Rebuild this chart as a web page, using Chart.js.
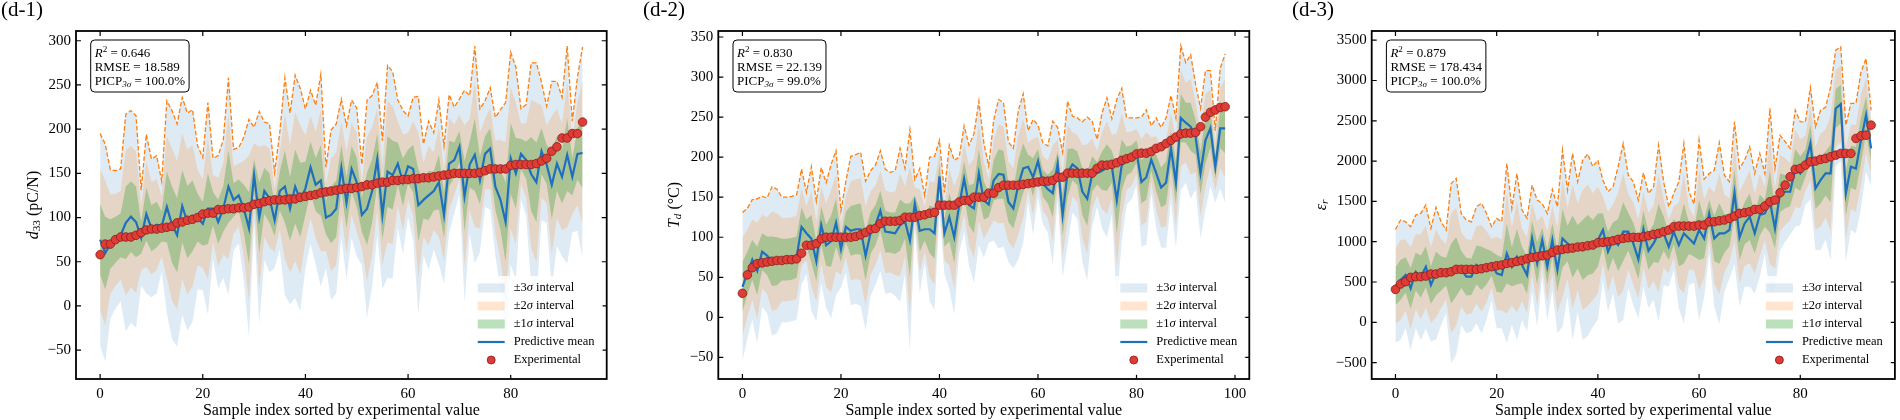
<!DOCTYPE html>
<html>
<head>
<meta charset="utf-8">
<script src="https://cdn.jsdelivr.net/npm/chart.js@4.4.0/dist/chart.umd.min.js"></script>
<style>
body { margin: 0; background: #fff; }
canvas { position: absolute; top: 0; }
</style>
</head>
<body>
<canvas id="c1" width="630" height="420" style="left:0px;width:630px;height:420px"></canvas>
<canvas id="c2" width="630" height="420" style="left:630px;width:630px;height:420px"></canvas>
<canvas id="c3" width="640" height="420" style="left:1260px;width:640px;height:420px"></canvas>
<script>
// (d-1) d33
const exp1 = [58,70,70,75,78,78,78,80,83,86,87,87,88,89,90,94,95,97,98,100,104,105,105,109,109,110,110,111,111,112,115,116,118,119,120,120,120,121,121,123,124,125,126,128,129,130,131,132,133,133,134,135,137,137,139,140,140,142,142,143,143,144,144,145,145,146,147,148,149,150,150,150,150,150,151,153,155,155,155,155,159,160,160,160,160,161,164,167,175,180,190,190,195,195,208];
const mean1 = [75,60,70,75,80,94,101,95,77,104,88,92,90,112,92,80,113,95,102,100,93,110,110,95,110,135,120,125,110,88,148,100,130,122,97,130,135,110,135,120,133,157,137,142,100,103,110,156,117,155,140,103,110,130,166,103,152,148,161,140,158,155,114,120,125,130,140,103,161,165,180,124,160,171,142,172,178,135,120,95,167,150,172,165,149,140,175,160,137,161,146,171,146,172,173];
const sig1 = [40,41,28,26,25,41,40,40,18,30,26,26,17,40,43,42,41,41,40,27,25,40,19,25,26,41,19,18,27,41,18,40,26,28,18,22,41,36,42,42,30,29,30,40,19,32,32,26,29,26,28,19,41,36,29,28,40,39,24,27,19,27,41,21,28,22,31,26,26,20,18,40,26,41,27,20,23,26,34,45,40,40,17,21,42,45,26,22,39,31,30,41,21,29,40];
const stats1 = ['0.646', '18.589', '100.0%'];

// (d-2) Td
const exp2 = [30,53,62,67,68,69,70,71,71,72,72,73,80,90,90,92,98,100,100,100,100,100,100,101,103,106,110,111,117,120,120,120,121,125,125,125,127,128,130,131,140,140,140,140,144,146,146,150,150,150,155,155,162,165,165,165,165,166,167,168,169,170,170,171,175,175,180,180,180,180,180,180,186,190,190,191,193,196,198,200,204,205,205,207,211,213,217,221,225,229,230,230,231,238,250,256,259,262,263];
const mean2 = [38,55,72,58,82,77,70,70,72,72,73,75,113,105,98,70,115,90,95,118,85,113,108,110,110,77,105,115,133,107,106,105,115,120,96,142,108,110,110,105,176,105,125,100,140,173,140,136,180,146,141,171,179,178,144,136,165,186,188,175,195,167,160,155,192,128,180,191,186,157,148,179,180,183,187,188,146,190,195,198,207,169,175,197,180,162,168,211,168,249,243,238,225,180,221,236,188,236,236];
const sig2 = [31,27,25,30,23,24,31,30,26,26,26,26,24,17,30,25,24,26,32,30,16,19,31,31,32,31,26,25,25,26,25,26,32,22,46,10,26,14,30,32,15,17,30,32,20,22,25,31,30,24,16,25,31,30,25,25,31,31,15,24,15,17,18,30,15,26,30,20,21,29,34,22,14,24,29,20,42,32,18,17,14,27,28,14,23,25,27,22,27,30,25,30,22,27,29,24,15,25,31];
const stats2 = ['0.830', '22.139', '99.0%'];

// (d-3) eps_r
const exp3 = [409,475,504,558,566,566,574,599,599,616,616,628,657,657,657,657,657,665,678,690,702,711,731,740,756,769,789,806,814,826,835,868,897,905,913,921,934,938,950,959,988,992,1000,1012,1029,1041,1050,1054,1054,1062,1074,1091,1103,1124,1145,1186,1194,1194,1194,1194,1207,1207,1248,1248,1260,1269,1289,1318,1351,1360,1372,1401,1401,1442,1496,1517,1607,1702,1806,1897,1909,1950,1992,2000,2021,2033,2054,2074,2095,2095,2095,2281,2314,2322,2446];
const mean3 = [450,525,587,421,628,566,690,463,607,607,628,607,690,657,566,566,711,669,690,731,607,587,855,690,814,711,587,1041,731,1021,690,1021,649,1041,979,938,938,897,959,938,1021,1145,876,1021,959,1124,1124,979,781,1153,888,979,1103,1103,938,1124,959,1103,1041,979,1145,1041,1351,1041,1103,1103,1145,1607,1054,1227,1310,1103,1331,1351,1496,1165,1607,1620,1620,1909,1847,1971,2219,1661,1764,1847,1847,2653,2707,1599,1930,1909,2260,2570,2157];
const sig3 = [234,248,220,255,234,262,255,234,273,214,172,372,365,231,234,227,241,269,220,152,227,220,372,241,344,227,234,220,262,151,220,209,262,365,220,386,269,372,376,331,330,206,248,220,324,365,234,255,245,234,237,234,365,214,165,158,262,372,193,163,372,245,165,282,375,241,200,294,285,262,289,248,255,165,386,248,238,207,179,241,214,172,231,255,289,273,358,241,237,282,262,269,282,234,158];
const stats3 = ['0.879', '178.434', '100.0%'];

const xTicks1 = [0, 20, 40, 60, 80];
const xTicks2 = [0, 20, 40, 60, 80, 100];
const yTicks1 = [-50, 0, 50, 100, 150, 200, 250, 300];
const yTicks2 = [-50, 0, 50, 100, 150, 200, 250, 300, 350];
const yTicks3 = [-500, 0, 500, 1000, 1500, 2000, 2500, 3000, 3500];

const SERIF = "'Liberation Serif', 'Times New Roman', serif";
const C3 = 'rgba(31,119,180,0.15)';
const C2 = 'rgba(255,127,14,0.2)';
const C1 = 'rgba(44,160,44,0.32)';
const MEAN = '#1f6fbf';

function fontFor(p, size) {
  const s = (p.sub || p.sup) ? size * 0.7 : size;
  return (p.it ? 'italic ' : '') + s + 'px ' + SERIF;
}
function richWidth(ctx, parts, size) {
  let w = 0;
  for (const p of parts) { ctx.font = fontFor(p, size); w += ctx.measureText(p.t).width; }
  return w;
}
function drawRich(ctx, parts, x, y, size, align) {
  const w = richWidth(ctx, parts, size);
  let cx = align === 'center' ? x - w / 2 : (align === 'right' ? x - w : x);
  ctx.textAlign = 'left';
  for (const p of parts) {
    ctx.font = fontFor(p, size);
    const dy = p.sub ? size * 0.22 : (p.sup ? -size * 0.38 : 0);
    ctx.fillText(p.t, cx, y + dy);
    cx += ctx.measureText(p.t).width;
  }
}

const legendItems = [
  {kind: 'box', color: C3, parts: [{t: '\u00b13'}, {t: '\u03c3', it: true}, {t: ' interval'}]},
  {kind: 'box', color: C2, parts: [{t: '\u00b12'}, {t: '\u03c3', it: true}, {t: ' interval'}]},
  {kind: 'box', color: C1, parts: [{t: '\u00b11'}, {t: '\u03c3', it: true}, {t: ' interval'}]},
  {kind: 'line', parts: [{t: 'Predictive mean'}]},
  {kind: 'dot', parts: [{t: 'Experimental'}]}
];

const deco = {
  id: 'deco',
  afterDraw(chart, args, o) {
    const ctx = chart.ctx, a = chart.chartArea;
    const xs = chart.scales.x, ys = chart.scales.y;
    ctx.save();
    ctx.strokeStyle = '#000';
    ctx.lineWidth = 1.2;
    ctx.beginPath();
    for (const t of xs.ticks) {
      const p = xs.getPixelForValue(t.value);
      ctx.moveTo(p, a.bottom); ctx.lineTo(p, a.bottom - 5);
      ctx.moveTo(p, a.top); ctx.lineTo(p, a.top + 5);
    }
    for (const t of ys.ticks) {
      const p = ys.getPixelForValue(t.value);
      ctx.moveTo(a.left, p); ctx.lineTo(a.left + 5, p);
      ctx.moveTo(a.right, p); ctx.lineTo(a.right - 5, p);
    }
    ctx.stroke();
    ctx.lineWidth = 1.8;
    ctx.strokeRect(a.left, a.top, a.right - a.left, a.bottom - a.top);

    // legend, lower right
    const lx = a.right - 129, ly = a.bottom - 91;
    ctx.fillStyle = 'rgba(255,255,255,0.85)';
    ctx.fillRect(lx - 5, ly - 12, a.right - 4 - (lx - 5), a.bottom - 4 - (ly - 12));
    legendItems.forEach((it, k) => {
      const cy = ly + k * 18;
      if (it.kind === 'box') {
        ctx.fillStyle = it.color;
        ctx.fillRect(lx, cy - 4.5, 27, 9);
      } else if (it.kind === 'line') {
        ctx.strokeStyle = MEAN; ctx.lineWidth = 2.2;
        ctx.beginPath(); ctx.moveTo(lx, cy); ctx.lineTo(lx + 27, cy); ctx.stroke();
      } else {
        ctx.fillStyle = '#e03c36'; ctx.strokeStyle = '#8a1a1a'; ctx.lineWidth = 0.8;
        ctx.beginPath(); ctx.arc(lx + 13.5, cy, 4, 0, Math.PI * 2); ctx.fill(); ctx.stroke();
      }
      ctx.fillStyle = '#000';
      ctx.textBaseline = 'middle';
      drawRich(ctx, it.parts, lx + 36, cy, 12.5, 'left');
    });

    // stats box
    ctx.textBaseline = 'alphabetic';
    const lines = [
      [{t: 'R', it: true}, {t: '2', sup: true}, {t: ' = ' + o.stats[0]}],
      [{t: 'RMSE = ' + o.stats[1]}],
      [{t: 'PICP'}, {t: '3\u03c3', it: true, sub: true}, {t: ' = ' + o.stats[2]}]
    ];
    let mw = 0;
    for (const l of lines) mw = Math.max(mw, richWidth(ctx, l, 13));
    const bx = a.left + 14.7, by = a.top + 9;
    ctx.fillStyle = 'rgba(255,255,255,0.85)';
    ctx.strokeStyle = '#000'; ctx.lineWidth = 1;
    ctx.beginPath(); ctx.roundRect(bx, by, mw + 8, 52, 4); ctx.fill(); ctx.stroke();
    ctx.fillStyle = '#000';
    lines.forEach((l, k) => drawRich(ctx, l, bx + 4, by + 16.5 + k * 14, 13, 'left'));

    // axis titles
    ctx.fillStyle = '#000';
    ctx.textBaseline = 'alphabetic';
    drawRich(ctx, [{t: 'Sample index sorted by experimental value'}], (a.left + a.right) / 2, 415, 16, 'center');
    ctx.save();
    ctx.translate(o.yTitleX, (a.top + a.bottom) / 2);
    ctx.rotate(-Math.PI / 2);
    ctx.textBaseline = 'middle';
    drawRich(ctx, o.yTitle, 0, 0, 16, 'center');
    ctx.restore();

    // panel label
    ctx.textBaseline = 'alphabetic';
    ctx.font = '21px ' + SERIF;
    ctx.textAlign = 'left';
    ctx.fillText(o.label, o.labelX, 16);
    ctx.restore();
  }
};

function pts(arr) { return arr.map((v, i) => ({x: i, y: v})); }

function makePanel(id, p) {
  const up = k => p.mean.map((m, i) => m + k * p.sig[i]);
  const lo = k => p.mean.map((m, i) => m - k * p.sig[i]);
  const edge = {borderColor: 'transparent', borderWidth: 0, pointRadius: 0};
  return new Chart(document.getElementById(id).getContext('2d'), {
    type: 'line',
    data: {
      datasets: [
        {data: pts(up(3)), borderColor: '#ff7f0e', borderWidth: 1.3, borderDash: [4.5, 2.2], backgroundColor: C3, fill: '+1', pointRadius: 0, order: 7},
        Object.assign({data: pts(lo(3)), fill: false, order: 7}, edge),
        Object.assign({data: pts(up(2)), backgroundColor: C2, fill: '+1', order: 5}, edge),
        Object.assign({data: pts(lo(2)), fill: false, order: 5}, edge),
        Object.assign({data: pts(up(1)), backgroundColor: C1, fill: '+1', order: 3}, edge),
        Object.assign({data: pts(lo(1)), fill: false, order: 3}, edge),
        {data: pts(p.mean), borderColor: MEAN, borderWidth: 2.2, pointRadius: 0, fill: false, order: 1},
        {data: pts(p.exp), showLine: false, pointRadius: 4.3, pointBackgroundColor: '#e03c36', pointBorderColor: '#8a1a1a', pointBorderWidth: 0.8, order: 0}
      ]
    },
    options: {
      responsive: false,
      animation: false,
      elements: {line: {tension: 0}},
      layout: {padding: {left: 0, right: p.padRight, top: 31, bottom: 0}},
      plugins: {
        legend: {display: false},
        tooltip: {enabled: false},
        deco: {stats: p.stats, yTitle: p.yTitle, yTitleX: p.yTitleX, label: p.label, labelX: p.labelX}
      },
      scales: {
        x: {
          type: 'linear', min: p.xMin, max: p.xMax,
          afterBuildTicks: s => { s.ticks = p.xTicks.map(v => ({value: v})); },
          afterFit: s => { s.height = 41; },
          grid: {display: false, drawTicks: false},
          border: {display: false},
          ticks: {font: {family: SERIF, size: 15}, color: '#000', padding: 6, maxRotation: 0, autoSkip: false}
        },
        y: {
          min: p.yMin, max: p.yMax,
          afterBuildTicks: s => { s.ticks = p.yTicks.map(v => ({value: v})); },
          afterFit: s => { s.width = p.yWidth; },
          grid: {display: false, drawTicks: false},
          border: {display: false},
          ticks: {font: {family: SERIF, size: 15}, color: '#000', padding: 5, autoSkip: false,
            callback: v => String(v).replace('-', '\u2212')}
        }
      }
    },
    plugins: [deco]
  });
}

makePanel('c1', {
  exp: exp1, mean: mean1, sig: sig1, stats: stats1,
  xTicks: xTicks1, yTicks: yTicks1, xMin: -4.7, xMax: 98.7, yMin: -82.6, yMax: 311,
  yWidth: 76, padRight: 23.3, yTitleX: 34, label: '(d-1)', labelX: 1,
  yTitle: [{t: 'd', it: true}, {t: '33', sub: true}, {t: ' (pC/N)'}]
});
makePanel('c2', {
  exp: exp2, mean: mean2, sig: sig2, stats: stats2,
  xTicks: xTicks2, yTicks: yTicks2, xMin: -4.9, xMax: 102.9, yMin: -77, yMax: 357.5,
  yWidth: 88.3, padRight: 10.7, yTitleX: 45, label: '(d-2)', labelX: 13,
  yTitle: [{t: 'T', it: true}, {t: 'd', it: true, sub: true}, {t: ' (\u00b0C)'}]
});
makePanel('c3', {
  exp: exp3, mean: mean3, sig: sig3, stats: stats3,
  xTicks: xTicks1, yTicks: yTicks3, xMin: -4.7, xMax: 98.7, yMin: -703, yMax: 3614,
  yWidth: 111.7, padRight: 3.3, yTitleX: 62, label: '(d-3)', labelX: 32,
  yTitle: [{t: '\u03b5', it: true}, {t: 'r', it: true, sub: true}]
});
</script>
</body>
</html>
